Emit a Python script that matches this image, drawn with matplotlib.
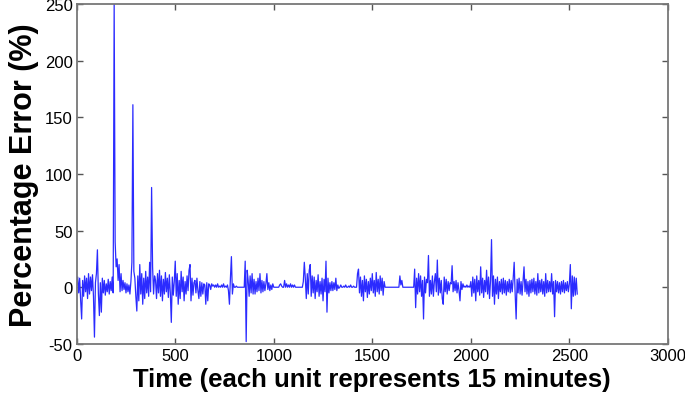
import matplotlib
matplotlib.use("Agg")
import matplotlib.pyplot as plt
import numpy as np

# percentage error, one value every 5 time units
step = 5
err_rows = [
    [2, 9, -5, 8, -12, -28, 6, -8, 10, -4, 8, -10, 12, -6, 9, -3, 11, -8, -44, 4],
    [12, 33, -6, -25, 4, -22, 8, -5, 6, -7, 3, -4, 7, -6, 5, -3, 9, -5, 250, 40],
    [18, 25, 6, 20, -4, 12, -3, 6, -2, 4, -5, 3, -4, 2, -6, 5, 22, 161, 14, 8],
    [-8, -21, 10, -12, 20, -6, 12, -15, 8, -10, 14, -5, 9, -8, 22, -4, 88, 18, -6, 10],
    [6, -10, 12, -5, 15, -8, 10, -12, 7, -6, 13, -4, 8, -9, 11, -5, -31, 9, -7, 5],
    [23, -8, 12, -15, 6, -10, 14, -4, 9, -12, 5, -6, 10, -3, 15, 20, -12, 8, -7, 4],
    [6, -5, 8, -3, -10, 5, -8, 4, -6, 3, 2, -15, 4, -12, 3, 2, -2, 3, 1, 2],
    [0, 2, 0, 3, 0, 1, 0, 2, 0, 3, 0, 1, 0, 2, -3, -15, 8, 27, -6, 3],
    [0, 0, 1, 0, 0, 0, 0, 0, 0, 0, 0, 23, -48, 15, 6, -8, 10, -5, 12, -6],
    [7, -6, 5, -4, 8, -3, 12, -5, 6, -4, 5, -3, 3, 12, -2, 4, -3, 2, -2, 3],
    [0, 0, 0, 0, 0, 0, 2, 3, 1, 0, 0, 6, 0, 3, 0, 2, 0, 3, 0, 2],
    [0, 2, 0, 0, 0, 0, 0, 0, 0, 0, 5, 22, 8, -10, 12, -6, 15, 20, -8, 10],
    [-5, 9, -10, 6, -4, 11, -8, 5, -6, 8, -12, 7, -4, 23, -22, 8, -5, 4, -3, 5],
    [-3, 4, -2, 8, -3, 2, -1, 0, 2, 0, 0, 1, 0, 2, 0, 0, 1, 0, 2, 0],
    [0, 1, 0, 0, 0, 12, 16, -5, 9, -8, 6, -12, 10, -4, 7, -9, 5, -6, 8, -3],
    [12, -5, 6, -8, 13, -4, 7, -6, 10, -3, 8, -7, 5, 0, 0, 0, 0, 0, 0, 0],
    [0, 0, 0, 0, 0, 0, 0, 0, 10, 2, 6, 0, 0, 0, 0, 0, 0, 0, 0, 0],
    [0, 0, 0, 16, -18, 8, -6, 12, -4, 10, -8, 6, -28, 9, -5, 7, 4, 28, -8, 6],
    [-6, 10, -8, 5, 12, -4, 24, -7, 8, -5, 6, -10, -15, 9, -4, 7, -6, 5, -3, 4],
    [3, 19, -4, 5, -3, 6, -5, 4, -3, -12, 5, -2, 3, 0, 1, 0, 2, 0, 1, 0],
    [5, -8, 9, -5, 7, -12, 10, -4, 6, -7, 18, -5, 8, -9, 6, -4, 15, -6, 9, -10],
    [6, 42, -8, 10, -15, 7, -6, 9, -10, 5, -4, 7, -6, 8, -5, 6, -7, 5, -4, 7],
    [-5, 6, -4, 8, 22, -6, -28, 7, -5, 8, -6, 5, -7, 6, 18, -4, 7, -6, 5, -8],
    [6, -5, 7, -4, 8, -6, 5, -7, 12, -5, 6, -4, 7, -6, 5, -8, 12, -5, 6, -4],
    [5, -4, 12, -6, 5, -26, 6, -4, 5, -5, 4, -6, 5, -4, 6, -5, 4, -3, 5, -4],
    [3, 20, -19, 10, -8, 9, -7, 8, -6],
]
x_ticks = [0, 500, 1000, 1500, 2000, 2500, 3000]
y_ticks = [-50, 0, 50, 100, 150, 200, 250]

err = np.concatenate([np.array(r, dtype=float) for r in err_rows])
t = np.arange(len(err)) * step

plt.rcParams['font.family'] = ['Liberation Sans', 'DejaVu Sans']
plt.rcParams['axes.unicode_minus'] = False

fig = plt.figure(figsize=(6.85, 4.02), dpi=100)
ax = fig.add_axes([0.112, 0.142, 0.863, 0.846])
ax.plot(t, err, color='#2b2bff', linewidth=0.9)

ax.set_xlim(0, 3000)
ax.set_ylim(-50, 250)
ax.set_xticks(x_ticks)
ax.set_yticks(y_ticks)
ax.tick_params(direction='in', top=True, right=True, length=4, width=1,
               color='#555555', labelsize=12, pad=3)
for s in ax.spines.values():
    s.set_color('#777777')
    s.set_linewidth(1.3)

ax.set_xlabel("Time (each unit represents 15 minutes)", fontsize=18.5,
              fontweight='bold', labelpad=3)
ax.set_ylabel("Percentage Error (%)", fontsize=22, fontweight='bold',
              labelpad=4)

fig.savefig("out.png", dpi=100)
